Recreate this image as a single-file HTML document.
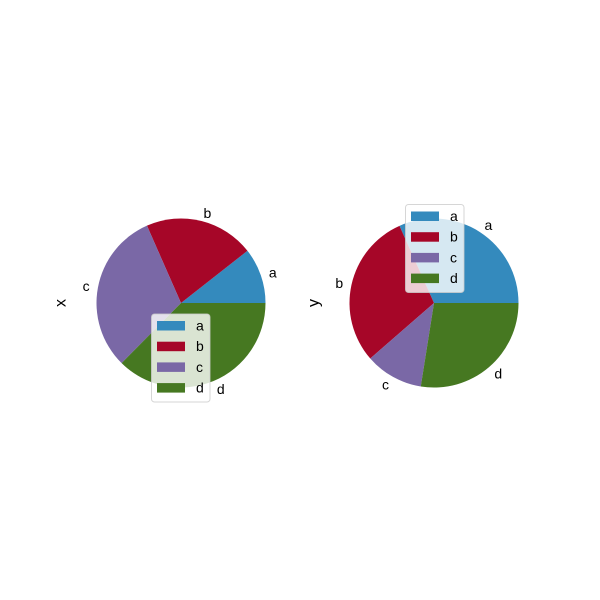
<!DOCTYPE html>
<html><head><meta charset="utf-8"><style>
body{margin:0;background:#fff}
svg{display:block;font-family:"Liberation Sans","DejaVu Sans",sans-serif}
</style></head><body>
<svg id="c" width="600" height="600" viewBox="0 0 600 600"></svg>
<script>
const categories = ["a","b","c","d"];
const seriesX = [0.106, 0.21, 0.31, 0.374];
const seriesY = [0.317, 0.297, 0.111, 0.275];
const colors = ["#348abd","#a60628","#7a68a6","#467821"];
const NS="http://www.w3.org/2000/svg";
const svg=document.getElementById('c');
function mk(tag,attrs,parent){const e=document.createElementNS(NS,tag);for(const k in attrs)e.setAttribute(k,attrs[k]);(parent||svg).appendChild(e);return e;}
function drawPie(cx,cy,r,vals,name,legX,legY){
  const g=mk('g',{});
  
  
  const tot=vals.reduce((a,b)=>a+b,0);
  let a0=0;
  vals.forEach((v,i)=>{
    const a1=a0+v/tot*2*Math.PI;
    const x0=cx+r*Math.cos(a0),y0=cy-r*Math.sin(a0),x1=cx+r*Math.cos(a1),y1=cy-r*Math.sin(a1);
    const large=(a1-a0)>Math.PI?1:0;
    const p=mk('path',{d:`M${cx},${cy}L${x0},${y0}A${r},${r} 0 ${large} 0 ${x1},${y1}Z`,fill:colors[i]},g);
    
    
    const am=(a0+a1)/2;
    const t=mk('text',{x:cx+1.1*r*Math.cos(am),y:cy-1.1*r*Math.sin(am)+5,'font-size':14,'text-anchor':Math.cos(am)>0.05?'start':(Math.cos(am)<-0.05?'end':'middle')},g);
    t.textContent=categories[i];
    
    
    a0=a1;
  });
  const tx=cx-r-31;
  const yl=mk('text',{x:tx,y:cy,'font-size':16,'text-anchor':'middle',transform:`rotate(-90 ${tx} ${cy})`},g);
  yl.textContent=name;
  
  
  const lg=mk('g',{},g);
  
  
  mk('rect',{x:legX,y:legY,width:58.5,height:88,rx:3,fill:'#fff','fill-opacity':0.8,stroke:'#ccc','stroke-opacity':0.8},lg);
  categories.forEach((c,i)=>{
    const e=mk('g',{},lg);
    
    
    mk('rect',{x:legX+5.5,y:legY+7+i*20.7,width:28,height:9.5,fill:colors[i]},e);
    const t=mk('text',{x:legX+44.5,y:legY+16.5+i*20.7,'font-size':14},e);
    t.textContent=c;
  });
}
drawPie(181,303,84.5,seriesX,'x',151.5,314);
drawPie(434,303,84.5,seriesY,'y',405.5,204.5);
</script>
</body></html>
